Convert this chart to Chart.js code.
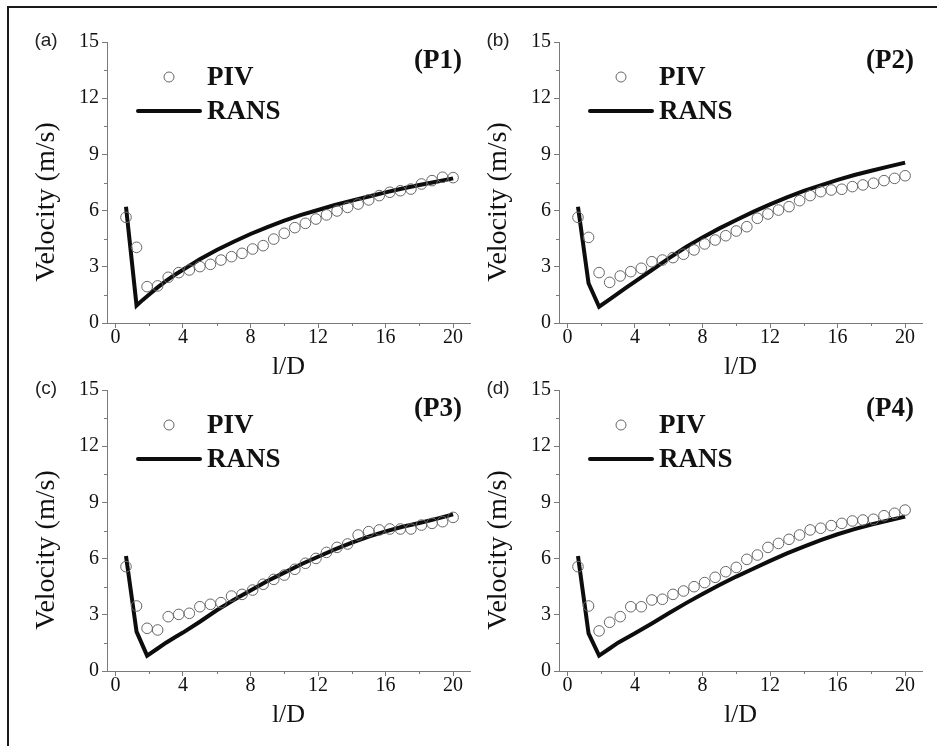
<!DOCTYPE html>
<html>
<head>
<meta charset="utf-8">
<script src="https://cdn.jsdelivr.net/npm/chart.js@4.4.1/dist/chart.umd.min.js"></script>
<style>
  body { margin: 0; background: #fff; }
  #page { position: relative; width: 937px; height: 746px; background: #fff; overflow: hidden; }
  #frame { position: absolute; left: 7px; top: 6px; width: 940px; height: 760px;
           border-top: 2px solid #1a1a1a; border-left: 2px solid #1a1a1a; }
  .panel { position: absolute; width: 480px; height: 390px; }
</style>
</head>
<body>
<div id="page">
  <div id="frame"></div>
  <div class="panel" style="left:0px;top:0px"><canvas id="p1"></canvas></div>
  <div class="panel" style="left:452px;top:0px"><canvas id="p2"></canvas></div>
  <div class="panel" style="left:0px;top:348px"><canvas id="p3"></canvas></div>
  <div class="panel" style="left:452px;top:348px"><canvas id="p4"></canvas></div>
</div>
<script>
// l/D positions of the PIV samples
const pivX = [0.625, 1.25, 1.875, 2.5, 3.125, 3.75, 4.375, 5, 5.625, 6.25, 6.875, 7.5,
  8.125, 8.75, 9.375, 10, 10.625, 11.25, 11.875, 12.5, 13.125, 13.75, 14.375, 15,
  15.625, 16.25, 16.875, 17.5, 18.125, 18.75, 19.375, 20];

const pivP1 = [5.64, 4.04, 1.94, 1.98, 2.44, 2.69, 2.83, 3.01, 3.13, 3.36, 3.54, 3.72,
  3.95, 4.13, 4.48, 4.79, 5.09, 5.32, 5.55, 5.77, 5.98, 6.17, 6.35, 6.57,
  6.80, 6.98, 7.06, 7.15, 7.42, 7.60, 7.78, 7.76];
const pivP2 = [5.64, 4.57, 2.69, 2.17, 2.51, 2.74, 2.92, 3.27, 3.36, 3.49, 3.67, 3.90,
  4.22, 4.43, 4.66, 4.91, 5.14, 5.59, 5.82, 6.03, 6.21, 6.53, 6.80, 7.01,
  7.10, 7.14, 7.28, 7.37, 7.46, 7.60, 7.72, 7.86];
const pivP3 = [5.57, 3.47, 2.28, 2.19, 2.90, 3.02, 3.08, 3.43, 3.56, 3.65, 4.00, 4.09,
  4.32, 4.63, 4.89, 5.12, 5.43, 5.75, 6.01, 6.33, 6.60, 6.78, 7.26, 7.44,
  7.53, 7.58, 7.58, 7.58, 7.79, 7.88, 7.97, 8.20];
const pivP4 = [5.57, 3.47, 2.14, 2.60, 2.90, 3.43, 3.43, 3.79, 3.83, 4.09, 4.27, 4.50,
  4.72, 5.00, 5.30, 5.53, 5.96, 6.19, 6.60, 6.81, 7.03, 7.26, 7.53, 7.62,
  7.76, 7.88, 8.01, 8.06, 8.10, 8.29, 8.42, 8.59];

// RANS curves
const ransXA = [0.625, 1.25, 1.6, 2, 2.5, 3, 3.5, 4, 5, 6, 7, 8, 9, 10, 11, 12, 13, 14, 15, 16, 17, 18, 19, 20];
const ransX = [0.625, 1.25, 1.875, 2.5, 3, 3.5, 4, 5, 6, 7, 8, 9, 10, 11, 12, 13, 14, 15, 16, 17, 18, 19, 20];
const ransP1 = [6.21, 0.93, 1.22, 1.52, 1.90, 2.25, 2.56, 2.84, 3.40, 3.90, 4.34, 4.75,
  5.12, 5.46, 5.77, 6.03, 6.30, 6.53, 6.75, 6.97, 7.18, 7.37, 7.54, 7.72];
const ransP2 = [6.21, 2.12, 0.87, 1.26, 1.58, 1.90, 2.21, 2.83, 3.45, 4.04, 4.57, 5.05,
  5.50, 5.93, 6.33, 6.71, 7.05, 7.35, 7.64, 7.90, 8.13, 8.35, 8.56];
const ransP3 = [6.14, 2.10, 0.82, 1.20, 1.51, 1.79, 2.05, 2.63, 3.24, 3.79, 4.30, 4.80,
  5.25, 5.70, 6.10, 6.49, 6.85, 7.17, 7.45, 7.70, 7.90, 8.12, 8.36];
const ransP4 = [6.14, 2.01, 0.82, 1.20, 1.51, 1.76, 2.01, 2.54, 3.08, 3.61, 4.11, 4.59,
  5.04, 5.46, 5.88, 6.28, 6.64, 6.99, 7.30, 7.57, 7.82, 8.03, 8.24];

// axis ticks
const xMajor = 4;
const yMajor = 3;
const xMinor = [2, 6, 10, 14, 18];
const yMinor = [1.5, 4.5, 7.5, 10.5, 13.5];

const axisGray = "#7a7a7a";
const serif = '"Liberation Serif", "Times New Roman", serif';

const minorTicks = {
  id: "minorTicks",
  afterDraw(chart) {
    const { ctx } = chart;
    const x = chart.scales.x;
    const y = chart.scales.y;
    ctx.save();
    ctx.strokeStyle = axisGray;
    ctx.lineWidth = 1;
    ctx.beginPath();
    xMinor.forEach((v) => {
      const px = Math.round(x.getPixelForValue(v)) + 0.5;
      ctx.moveTo(px, x.top);
      ctx.lineTo(px, x.top + 3);
    });
    yMinor.forEach((v) => {
      const py = Math.round(y.getPixelForValue(v)) + 0.5;
      ctx.moveTo(y.right, py);
      ctx.lineTo(y.right - 3, py);
    });
    ctx.stroke();
    ctx.restore();
  },
};

const decor = {
  id: "decor",
  afterDraw(chart, args, opts) {
    const { ctx, chartArea: a } = chart;
    const piv = chart.data.datasets[0];
    const rans = chart.data.datasets[1];
    ctx.save();
    ctx.fillStyle = "#111";
    ctx.textBaseline = "middle";

    // y axis title
    ctx.save();
    ctx.font = "28px " + serif;
    ctx.textAlign = "center";
    ctx.translate(a.left - 60, a.top + 160);
    ctx.rotate(-Math.PI / 2);
    ctx.fillText("Velocity (m/s)", 0, 0);
    ctx.restore();

    // panel letter
    ctx.font = '19px "Liberation Sans", Arial, sans-serif';
    ctx.textAlign = "center";
    ctx.fillStyle = "#222";
    ctx.fillText(opts.letter, a.left - 61, a.top - 1);

    // position tag
    ctx.fillStyle = "#111";
    ctx.font = "bold 27px " + serif;
    ctx.textAlign = "right";
    ctx.fillText(opts.tag, a.left + 355, a.top + 19);

    // legend
    ctx.strokeStyle = piv.borderColor;
    ctx.lineWidth = piv.borderWidth;
    ctx.beginPath();
    ctx.arc(a.left + 62, a.top + 35, 5, 0, Math.PI * 2);
    ctx.stroke();
    ctx.strokeStyle = rans.borderColor;
    ctx.lineWidth = rans.borderWidth;
    ctx.lineCap = "round";
    ctx.beginPath();
    ctx.moveTo(a.left + 31, a.top + 69);
    ctx.lineTo(a.left + 93, a.top + 69);
    ctx.stroke();
    ctx.textAlign = "left";
    ctx.fillText("PIV", a.left + 100, a.top + 36);
    ctx.fillText("RANS", a.left + 100, a.top + 70);
    ctx.restore();
  },
};

function pairs(xs, ys) {
  return xs.map((x, i) => ({ x: x, y: ys[i] }));
}

function makePanel(id, piv, ransXs, rans, letter, tag) {
  return new Chart(document.getElementById(id), {
    type: "line",
    data: {
      datasets: [
        {
          label: "PIV",
          data: pairs(pivX, piv),
          showLine: false,
          pointStyle: "circle",
          pointRadius: 5.3,
          pointBorderWidth: 1,
          borderWidth: 1,
          borderColor: "#666",
          pointBorderColor: "#666",
          pointBackgroundColor: "rgba(0,0,0,0)",
          backgroundColor: "rgba(0,0,0,0)",
        },
        {
          label: "RANS",
          data: pairs(ransXs, rans),
          borderColor: "#0d0d0d",
          borderWidth: 4,
          pointRadius: 0,
          tension: 0,
          fill: false,
        },
      ],
    },
    options: {
      responsive: true,
      maintainAspectRatio: false,
      animation: false,
      events: [],
      layout: { padding: { left: 67, top: 42, right: 10, bottom: 5 } },
      plugins: {
        legend: { display: false },
        title: { display: false },
        tooltip: { enabled: false },
        decor: { letter: letter, tag: tag },
      },
      scales: {
        x: {
          type: "linear",
          min: -0.5,
          max: 21,
          afterFit: (s) => { s.height = 62; },
          border: { display: true, color: axisGray, width: 1 },
          grid: { display: true, drawOnChartArea: false, drawTicks: true, tickLength: 5, tickColor: axisGray },
          ticks: { stepSize: xMajor, includeBounds: false, maxRotation: 0, padding: -2, color: "#111", font: { family: serif, size: 20 } },
          title: { display: true, text: "l/D", color: "#111", padding: { top: 0, bottom: 2 }, font: { family: serif, size: 26 } },
        },
        y: {
          type: "linear",
          min: 0,
          max: 15,
          afterFit: (s) => { s.width = 40; },
          border: { display: true, color: axisGray, width: 1 },
          grid: { display: true, drawOnChartArea: false, drawTicks: true, tickLength: 5, tickColor: axisGray },
          ticks: { stepSize: yMajor, padding: 3, color: "#111", font: { family: serif, size: 20 } },
        },
      },
    },
    plugins: [minorTicks, decor],
  });
}

makePanel("p1", pivP1, ransXA, ransP1, "(a)", "(P1)");
makePanel("p2", pivP2, ransX, ransP2, "(b)", "(P2)");
makePanel("p3", pivP3, ransX, ransP3, "(c)", "(P3)");
makePanel("p4", pivP4, ransX, ransP4, "(d)", "(P4)");
</script>
</body>
</html>
